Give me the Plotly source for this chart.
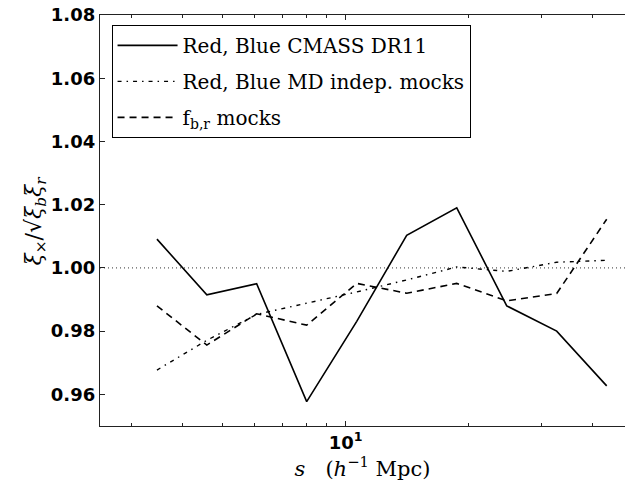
import plotly.graph_objects as go

# Pair separation bins, s in h^-1 Mpc (log-spaced)
s_bins = [3.46, 4.58, 6.06, 8.03, 10.64, 14.09, 18.67, 24.73, 32.75, 43.38]

# Cross-correlation ratio xi_x / sqrt(xi_b xi_r)
ratio_cmass_dr11 = [1.0091, 0.9915, 0.9950, 0.9577, 0.9831, 1.0103, 1.0190, 0.9880, 0.9800, 0.9627]
ratio_md_mocks = [0.9677, 0.9771, 0.9853, 0.9888, 0.9924, 0.9962, 1.0003, 0.9989, 1.0018, 1.0024]
ratio_fbr_mocks = [0.9880, 0.9756, 0.9855, 0.9819, 0.9951, 0.9920, 0.9951, 0.9896, 0.9919, 1.0154]

series_names = [
    "Red, Blue CMASS DR11",
    "Red, Blue MD indep. mocks",
    "f<sub>b,r</sub> mocks",
]

y_ticks = [0.96, 0.98, 1.00, 1.02, 1.04, 1.06, 1.08]
x_major = [10]
x_minor = [3, 4, 5, 6, 7, 8, 9, 20, 30, 40]

serif = "DejaVu Serif"
sans = "DejaVu Sans"

fig = go.Figure()

styles = [
    dict(color="black", width=1.6, dash="solid"),
    dict(color="black", width=1.4, dash="4px,5px,1.5px,5px"),
    dict(color="black", width=1.6, dash="7px,5px"),
]
for i, (vals, name, st) in enumerate(zip(
        [ratio_cmass_dr11, ratio_md_mocks, ratio_fbr_mocks], series_names, styles)):
    fig.add_trace(go.Scatter(
        x=s_bins, y=vals, mode="lines", name=name, line=st,
        legendgroup=f"g{i}",
    ))

# reference level at unity
fig.add_shape(type="line", xref="paper", x0=0, x1=1, yref="y", y0=1.0, y1=1.0,
              line=dict(color="#333", width=1, dash="1px,3px"), layer="below")

# vertical axis label
fig.add_annotation(
    text="<i>ξ</i><sub>×</sub>/√<i>ξ</i><sub><i>b</i></sub><i>ξ</i><sub><i>r</i></sub>",
    xref="paper", yref="paper", x=-0.122, y=0.5, xanchor="center", yanchor="middle",
    textangle=-90, showarrow=False,
    font=dict(family=serif, size=22, color="black"),
)

fig.update_layout(
    width=625, height=481,
    margin=dict(l=100, r=0, t=15, b=55),
    paper_bgcolor="white", plot_bgcolor="white",
    showlegend=True,
    legend=dict(
        x=0.022, y=0.976, xanchor="left", yanchor="top",
        bordercolor="black", borderwidth=1, bgcolor="white",
        font=dict(family=serif, size=20, color="black"),
        tracegroupgap=7, itemwidth=60,
    ),
    xaxis=dict(
        type="log", range=[0.4, 1.682],
        showgrid=False, zeroline=False,
        showline=True, linecolor="#222", linewidth=1.3, mirror="ticks",
        ticks="inside", ticklen=5, tickwidth=1, tickcolor="#222",
        tickmode="array", tickvals=x_major,
        ticktext=["10<sup>1</sup>"],
        tickfont=dict(family=sans, size=18, color="black", weight="bold"),
        minor=dict(ticks="inside", ticklen=3, tickwidth=1, tickcolor="#222",
                   tickmode="array", tickvals=x_minor, showgrid=False),
        title=dict(text="<i>s</i>   (<i>h</i><sup>−1</sup> Mpc)",
                   font=dict(family=serif, size=21, color="black"), standoff=0),
    ),
    yaxis=dict(
        range=[0.95, 1.08],
        showgrid=False, zeroline=False,
        showline=True, linecolor="#222", linewidth=1.3, mirror=False,
        ticks="inside", ticklen=5, tickwidth=1, tickcolor="#222",
        tickmode="array", tickvals=y_ticks,
        ticktext=[f"{v:.2f}" for v in y_ticks],
        tickfont=dict(family=sans, size=18, color="black", weight="bold"),
    ),
)

fig.write_html("out.html")
